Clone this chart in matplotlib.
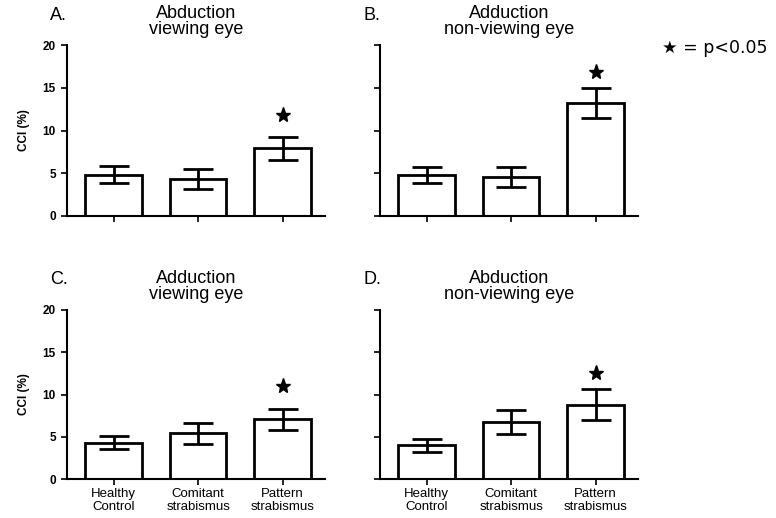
import matplotlib
matplotlib.use("Agg")
import matplotlib.pyplot as plt

plt.rcParams["font.family"] = ["Liberation Sans", "DejaVu Sans"]

groups = ["Healthy\nControl", "Comitant\nstrabismus", "Pattern\nstrabismus"]
yticks = [0, 5, 10, 15, 20]

panel_letters = ["A.", "B.", "C.", "D."]
panel_titles = ["Abduction\nviewing eye", "Adduction\nnon-viewing eye",
                "Adduction\nviewing eye", "Abduction\nnon-viewing eye"]

means_a = [4.85, 4.3, 7.9]
errs_a = [1.0, 1.15, 1.3]
star_a = 11.8

means_b = [4.8, 4.55, 13.25]
errs_b = [0.95, 1.2, 1.75]
star_b = 16.9

means_c = [4.3, 5.4, 7.05]
errs_c = [0.8, 1.2, 1.2]
star_c = 11.0

means_d = [4.0, 6.8, 8.8]
errs_d = [0.78, 1.42, 1.8]
star_d = 12.6

fig = plt.figure(figsize=(7.76, 5.18), dpi=100)

W = 258 / 776
H_top = 171 / 518
H_bot = 169 / 518
rects = [
    [67 / 776, 1 - 216 / 518, W, H_top],
    [380 / 776, 1 - 216 / 518, W, H_top],
    [67 / 776, 1 - 479 / 518, W, H_bot],
    [380 / 776, 1 - 479 / 518, W, H_bot],
]
data = [(means_a, errs_a, star_a), (means_b, errs_b, star_b),
        (means_c, errs_c, star_c), (means_d, errs_d, star_d)]

x = list(range(len(groups)))
for i, (rect, (m, e, s)) in enumerate(zip(rects, data)):
    ax = fig.add_axes(rect)
    ax.bar(x, m, width=0.67, color="white", edgecolor="black", linewidth=2, zorder=2)
    ax.errorbar(x, m, yerr=e, fmt="none", ecolor="black", elinewidth=2,
                capsize=10.5, capthick=2, zorder=3)
    ax.plot(2, s, marker="*", color="black", markersize=11, linestyle="none")
    ax.set_xlim(-0.55, 2.5)
    ax.set_ylim(0, 20)
    ax.set_yticks(yticks)
    for sp in ["top", "right"]:
        ax.spines[sp].set_visible(False)
    ax.spines["left"].set_linewidth(1.5)
    ax.spines["bottom"].set_linewidth(1.5)
    ax.tick_params(axis="both", width=1.2, length=4.5, direction="out")
    ax.tick_params(axis="x", pad=2)
    ax.set_xticks(x)
    if i >= 2:
        ax.set_xticklabels(groups, fontsize=9.5, linespacing=1.15)
    else:
        ax.set_xticklabels([])
    if i % 2 == 0:
        ax.set_yticklabels([str(t) for t in yticks], fontsize=8.5, fontweight="bold")
        ax.set_ylabel("CCI (%)", fontsize=8.5, fontweight="bold", labelpad=9)
    else:
        ax.set_yticklabels([])
    ax.set_title(panel_titles[i], fontsize=13, linespacing=0.95, pad=8)
    ax.text(-0.065, 1.175 if i < 2 else 1.18, panel_letters[i], transform=ax.transAxes,
            fontsize=13, ha="left", va="center")

fig.text(662 / 776, 1 - 48 / 518, "\u2605 = p<0.05", fontsize=12.5, ha="left", va="center",
         family=["DejaVu Sans"])

fig.savefig("out.png", dpi=100)
